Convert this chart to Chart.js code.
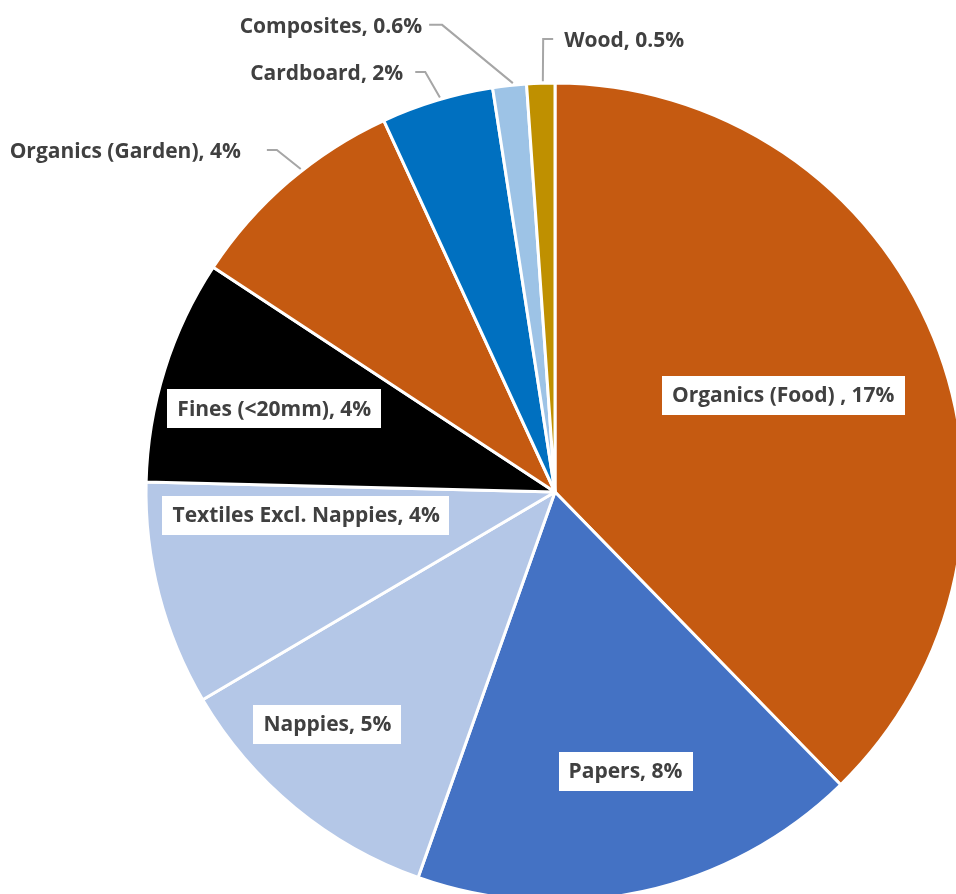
<!DOCTYPE html>
<html>
<head>
<meta charset="utf-8">
<script src="https://cdn.jsdelivr.net/npm/chart.js@4"></script>
<style>
  html, body { margin: 0; padding: 0; background: #fff; overflow: hidden; }
  #wrap { position: absolute; left: 0; top: 0; width: 1100px; height: 1000px; }
</style>
</head>
<body>
<div id="wrap"><canvas id="wasteChart" width="1100" height="1000"></canvas></div>
<script>
// Waste composition by category (% of total)
const categories = ['Organics (Food) ', 'Papers', 'Nappies', 'Textiles Excl. Nappies', 'Fines (<20mm)',
                    'Organics (Garden)', 'Cardboard', 'Composites', 'Wood'];
const percents = [17, 8, 5, 4, 4, 4, 2, 0.6, 0.5];
const sliceColors = ['#C55A11', '#4472C4', '#B4C7E7', '#B4C7E7', '#000000',
                     '#C55A11', '#0070C0', '#9DC3E6', '#BF9000'];

// label placement: inside boxes sit at a fraction of the radius, outside ones get a leader line
// da = angle nudge (deg), r = radius fraction, sa = nudge of the leader start on the rim,
// tail = horizontal leader (px, sign = side), gap = space to text
const labelLayout = [
  { inside: true, da: -0.8, r: 0.606 },
  { inside: true, da: -1.8, r: 0.704 },
  { inside: true, da: 4.9, r: 0.795 },
  { inside: true, da: 9.2, r: 0.611 },
  { inside: true, da: -0.8, r: 0.716 },
  { inside: false, da: 1.6, r: 1.078, sa: 2.5, tail: -10, gap: 26 },
  { inside: false, da: -0.4, r: 1.075, sa: 0.5, tail: -10, gap: 12 },
  { inside: false, da: -7.2, r: 1.175, sa: 0.5, tail: -13, gap: 7 },
  { inside: false, da: 0.5, r: 1.108, sa: 0.3, tail: 10, gap: 11 }
];

const LABEL_FONT = 'bold 21px "Open Sans", sans-serif';
const LABEL_COLOR = '#404040';
const DEG = Math.PI / 180;

const pieLabels = {
  id: 'pieLabels',
  afterDatasetsDraw(chart) {
    const ctx = chart.ctx;
    const meta = chart.getDatasetMeta(0);
    ctx.save();
    ctx.font = LABEL_FONT;
    ctx.textBaseline = 'middle';
    meta.data.forEach(function(arc, i) {
      const p = arc.getProps(['x', 'y', 'startAngle', 'endAngle', 'outerRadius'], true);
      const lay = labelLayout[i];
      const mid = (p.startAngle + p.endAngle) / 2;
      const a = mid + lay.da * DEG;
      const text = categories[i] + ', ' + percents[i] + '%';
      const w = ctx.measureText(text).width;
      if (lay.inside) {
        const cx = p.x + Math.cos(a) * p.outerRadius * lay.r;
        const cy = p.y + Math.sin(a) * p.outerRadius * lay.r;
        const bw = w + 20, bh = 39;
        ctx.fillStyle = '#fff';
        ctx.fillRect(Math.round(cx - bw / 2), Math.round(cy - bh / 2), Math.round(bw), bh);
        ctx.fillStyle = LABEL_COLOR;
        ctx.textAlign = 'center';
        ctx.fillText(text, cx, cy + 1);
      } else {
        // leader from the slice edge to an elbow, then a short horizontal run
        const s = mid + lay.sa * DEG;
        const sx = p.x + Math.cos(s) * p.outerRadius * 1.005;
        const sy = p.y + Math.sin(s) * p.outerRadius * 1.005;
        const ex = p.x + Math.cos(a) * p.outerRadius * lay.r;
        const ey = p.y + Math.sin(a) * p.outerRadius * lay.r;
        const tx = ex + lay.tail;
        ctx.strokeStyle = '#A6A6A6';
        ctx.lineWidth = 2;
        ctx.beginPath();
        ctx.moveTo(sx, sy);
        ctx.lineTo(ex, ey);
        ctx.lineTo(tx, ey);
        ctx.stroke();
        ctx.fillStyle = LABEL_COLOR;
        if (lay.tail < 0) {
          ctx.textAlign = 'right';
          ctx.fillText(text, tx - lay.gap, ey + 2);
        } else {
          ctx.textAlign = 'left';
          ctx.fillText(text, tx + lay.gap, ey + 2);
        }
      }
    });
    ctx.restore();
  }
};

new Chart(document.getElementById('wasteChart'), {
  type: 'pie',
  data: {
    labels: categories,
    datasets: [{
      data: percents,
      backgroundColor: sliceColors,
      borderColor: '#ffffff',
      borderWidth: 3,
      hoverOffset: 0
    }]
  },
  options: {
    responsive: false,
    animation: false,
    radius: 409,
    layout: { padding: { left: 146, top: 83, right: 136, bottom: 99 } },
    plugins: {
      legend: { display: false },
      tooltip: { enabled: false }
    }
  },
  plugins: [pieLabels]
});
</script>
</body>
</html>
